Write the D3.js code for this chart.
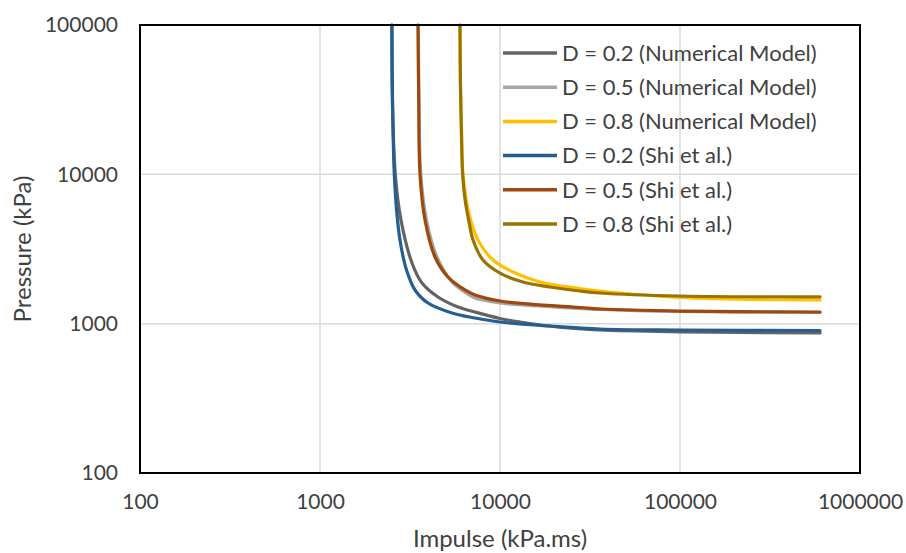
<!DOCTYPE html>
<html>
<head>
<meta charset="utf-8">
<script src="https://cdn.jsdelivr.net/npm/d3@7"></script>
<style>
  body { margin: 0; background: #fff; }
  text { font-family: Lato, "Liberation Sans", sans-serif; fill: #404040; }
</style>
</head>
<body>
<svg width="906" height="553"></svg>
<script>
// values: impulse (kPa.ms) and pressure (kPa)
var seriesNames = ["D = 0.2 (Numerical Model)", "D = 0.5 (Numerical Model)", "D = 0.8 (Numerical Model)",
                   "D = 0.2 (Shi et al.)", "D = 0.5 (Shi et al.)", "D = 0.8 (Shi et al.)"];

var nm02Impulse  = [2505, 2525, 2620, 2818, 3244, 3687, 4524, 5845, 7261, 10000, 12915, 21540, 35900, 100000, 600000];
var nm02Pressure = [100000, 31000, 10000, 4943, 2549, 1872, 1509, 1293, 1197, 1083, 1026, 946, 907, 882, 866];

var nm05Impulse  = [3516, 3548, 3631, 3905, 4467, 5412, 6474, 7261, 10000, 16680, 35900, 100000, 600000];
var nm05Pressure = [100000, 31460, 10000, 4943, 2796, 1901, 1605, 1486, 1375, 1313, 1245, 1206, 1188];

var nm08Impulse  = [5990, 6030, 6110, 6230, 6500, 6950, 7548, 9143, 11810, 16680, 27830, 35900, 100000, 600000];
var nm08Pressure = [100000, 40000, 20000, 10000, 6730, 4700, 3634, 2669, 2218, 1901, 1720, 1655, 1497, 1441];

var shi02Impulse  = [2512, 2530, 2587, 2695, 2818, 3024, 3371, 3981, 5412, 7261, 10000, 18960, 35900, 100000, 600000];
var shi02Pressure = [100000, 31000, 10000, 4943, 3313, 2288, 1681, 1375, 1179, 1091, 1026, 965, 921, 907, 900];

var shi05Impulse  = [3503, 3535, 3594, 3831, 4354, 5141, 6390, 7261, 10000, 14680, 27830, 35900, 100000, 600000];
var shi05Pressure = [100000, 31460, 10000, 4943, 2796, 2053, 1681, 1556, 1418, 1350, 1283, 1254, 1215, 1197];

var shi08Impulse  = [5995, 6030, 6100, 6200, 6400, 6750, 7080, 8040, 10000, 13400, 19000, 27800, 35900, 100000, 600000];
var shi08Pressure = [100000, 40000, 20000, 10000, 6730, 4700, 3630, 2670, 2180, 1900, 1760, 1655, 1605, 1532, 1513];

var xTicks = [100, 1000, 10000, 100000, 1000000];
var yTicks = [100, 1000, 10000, 100000];

var colors = ["#636363", "#a5a5a5", "#ffc000", "#255e91", "#9e480e", "#997300"];

var impulses  = [nm02Impulse, nm05Impulse, nm08Impulse, shi02Impulse, shi05Impulse, shi08Impulse];
var pressures = [nm02Pressure, nm05Pressure, nm08Pressure, shi02Pressure, shi05Pressure, shi08Pressure];

var series = seriesNames.map(function (name, i) {
  return {
    name: name,
    color: colors[i],
    points: impulses[i].map(function (v, j) { return [v, pressures[i][j]]; })
  };
});

var svg = d3.select("svg"),
    plotL = 140, plotR = 860, plotT = 25, plotB = 473;

var x = d3.scaleLog().domain([100, 1000000]).range([plotL, plotR]);
var y = d3.scaleLog().domain([100, 100000]).range([plotB, plotT]);

// gridlines
svg.append("g")
  .selectAll("line")
  .data(xTicks.slice(1, -1))
  .enter().append("line")
  .attr("x1", function (d) { return x(d); })
  .attr("x2", function (d) { return x(d); })
  .attr("y1", plotT).attr("y2", plotB)
  .attr("stroke", "#d9d9d9").attr("stroke-width", 1.5);

svg.append("g")
  .selectAll("line")
  .data(yTicks.slice(1, -1))
  .enter().append("line")
  .attr("y1", function (d) { return y(d); })
  .attr("y2", function (d) { return y(d); })
  .attr("x1", plotL).attr("x2", plotR)
  .attr("stroke", "#d9d9d9").attr("stroke-width", 1.5);

// axes (labels only)
var xAxis = svg.append("g")
  .attr("transform", "translate(0," + plotB + ")")
  .call(d3.axisBottom(x).tickValues(xTicks).tickFormat(d3.format("d")).tickSize(0).tickPadding(21));
xAxis.select(".domain").remove();
xAxis.selectAll("text").attr("font-size", "21px").attr("fill", "#404040");
xAxis.attr("font-family", null);

var yAxis = svg.append("g")
  .attr("transform", "translate(" + plotL + ",0)")
  .call(d3.axisLeft(y).tickValues(yTicks).tickFormat(d3.format("d")).tickSize(0).tickPadding(22));
yAxis.select(".domain").remove();
yAxis.selectAll("text").attr("font-size", "21px").attr("fill", "#404040");
yAxis.attr("font-family", null);

// curves
var line = d3.line()
  .x(function (d) { return x(d[0]); })
  .y(function (d) { return y(d[1]); })
  .curve(d3.curveCatmullRom.alpha(0.5));

svg.append("g")
  .selectAll("path")
  .data(series)
  .enter().append("path")
  .attr("d", function (d) { return line(d.points); })
  .attr("fill", "none")
  .attr("stroke", function (d) { return d.color; })
  .attr("stroke-width", 3.2)
  .attr("stroke-linecap", "round");

// plot frame
svg.append("rect")
  .attr("x", plotL).attr("y", plotT)
  .attr("width", plotR - plotL).attr("height", plotB - plotT)
  .attr("fill", "none").attr("stroke", "#000").attr("stroke-width", 2);

// axis titles
svg.append("text")
  .attr("x", (plotL + plotR) / 2).attr("y", 547)
  .attr("text-anchor", "middle").attr("font-size", "24px")
  .text("Impulse (kPa.ms)");

svg.append("text")
  .attr("transform", "translate(31," + (plotT + plotB) / 2 + ") rotate(-90)")
  .attr("text-anchor", "middle").attr("font-size", "24px")
  .text("Pressure (kPa)");

// legend
var legend = svg.append("g")
  .selectAll("g")
  .data(series)
  .enter().append("g")
  .attr("transform", function (d, i) { return "translate(503," + (53 + i * 34.2) + ")"; });

legend.append("line")
  .attr("x1", 0).attr("x2", 54)
  .attr("stroke", function (d) { return d.color; })
  .attr("stroke-width", 3.5);

legend.append("text")
  .attr("x", 59).attr("dy", "0.35em")
  .attr("font-size", "22px")
  .text(function (d) { return d.name; });
</script>
</body>
</html>
